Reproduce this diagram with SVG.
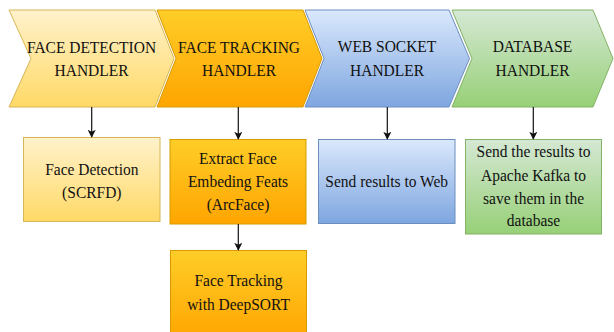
<svg xmlns="http://www.w3.org/2000/svg" width="614" height="332" viewBox="0 0 614 332">
  <defs>
    <linearGradient id="gYellow" x1="0" y1="0" x2="0" y2="1">
      <stop offset="0" stop-color="#fff2cc"/>
      <stop offset="1" stop-color="#ffd966"/>
    </linearGradient>
    <linearGradient id="gOrange" x1="0" y1="0" x2="0" y2="1">
      <stop offset="0" stop-color="#ffcd28"/>
      <stop offset="1" stop-color="#ffa500"/>
    </linearGradient>
    <linearGradient id="gBlue" x1="0" y1="0" x2="0" y2="1">
      <stop offset="0" stop-color="#dae8fc"/>
      <stop offset="1" stop-color="#7ea6e0"/>
    </linearGradient>
    <linearGradient id="gGreen" x1="0" y1="0" x2="0" y2="1">
      <stop offset="0" stop-color="#d5e8d4"/>
      <stop offset="1" stop-color="#97d077"/>
    </linearGradient>
    <marker id="arrow" viewBox="0 0 10 10" refX="9" refY="5" markerWidth="8" markerHeight="8" markerUnits="userSpaceOnUse" orient="auto">
      <path d="M0,0 L10,5 L0,10 L2.5,5 Z" fill="#111"/>
    </marker>
  </defs>
  <style>
    .yellow { fill: url(#gYellow); stroke: #d6b656; stroke-width: 1; }
    .orange { fill: url(#gOrange); stroke: #d79b00; stroke-width: 1; }
    .blue { fill: url(#gBlue); stroke: #6c8ebf; stroke-width: 1; }
    .green { fill: url(#gGreen); stroke: #82b366; stroke-width: 1; }
    text { font-family: "Liberation Serif", "Times New Roman", serif; font-size: 17.5px; fill: #111; text-anchor: middle; }
    .edge { stroke: #111; stroke-width: 1.2; fill: none; marker-end: url(#arrow); }
  </style>

  <rect width="614" height="332" fill="#ffffff"/>

  <!-- stage chevrons -->
  <g id="face-detection-handler">
    <polygon class="yellow" points="9,10 155,10 174,58.5 155,107 9,107 31,58.5"/>
    <text transform="translate(91.5 52.5) scale(0.885 1)">FACE DETECTION</text>
    <text transform="translate(91.5 76) scale(0.885 1)">HANDLER</text>
  </g>
  <g id="face-tracking-handler">
    <polygon class="orange" points="157,10 303,10 322,58.5 303,107 157,107 176,58.5"/>
    <text transform="translate(239 52.5) scale(0.885 1)">FACE TRACKING</text>
    <text transform="translate(239 76) scale(0.885 1)">HANDLER</text>
  </g>
  <g id="web-socket-handler">
    <polygon class="blue" points="305,10 449,10 469.5,58.5 449,107 305,107 324,58.5"/>
    <text transform="translate(387 52) scale(0.885 1)">WEB SOCKET</text>
    <text transform="translate(387 76) scale(0.885 1)">HANDLER</text>
  </g>
  <g id="database-handler">
    <polygon class="green" points="452,10 593,10 613,58.5 593,107 452,107 472,58.5"/>
    <text transform="translate(532.5 52) scale(0.885 1)">DATABASE</text>
    <text transform="translate(532.5 76) scale(0.885 1)">HANDLER</text>
  </g>

  <!-- task boxes -->
  <g id="face-detection">
    <rect class="yellow" x="23.5" y="137.5" width="136.5" height="84"/>
    <text transform="translate(91.8 174.5) scale(0.885 1)">Face Detection</text>
    <text transform="translate(91.8 197.5) scale(0.885 1)">(SCRFD)</text>
  </g>
  <g id="extract-embedding">
    <rect class="orange" x="170" y="139.5" width="136" height="84.5"/>
    <text transform="translate(238 163.5) scale(0.885 1)">Extract Face</text>
    <text transform="translate(238 186.5) scale(0.885 1)">Embeding Feats</text>
    <text transform="translate(238 209.5) scale(0.885 1)">(ArcFace)</text>
  </g>
  <g id="send-to-web">
    <rect class="blue" x="318.5" y="139.5" width="136.5" height="84"/>
    <text transform="translate(386.7 187) scale(0.885 1)">Send results to Web</text>
  </g>
  <g id="send-to-kafka">
    <rect class="green" x="465.5" y="139.5" width="136" height="94.5"/>
    <text transform="translate(533.5 157) scale(0.885 1)">Send the results to</text>
    <text transform="translate(533.5 180.5) scale(0.885 1)">Apache Kafka to</text>
    <text transform="translate(533.5 203.5) scale(0.885 1)">save them in the</text>
    <text transform="translate(533.5 226) scale(0.885 1)">database</text>
  </g>
  <g id="face-tracking">
    <rect class="orange" x="170.5" y="250.5" width="136" height="90"/>
    <text transform="translate(238.5 286) scale(0.885 1)">Face Tracking</text>
    <text transform="translate(238.5 310) scale(0.885 1)">with DeepSORT</text>
  </g>

  <!-- connectors -->
  <g id="connectors">
    <line class="edge" x1="91.7" y1="107" x2="91.7" y2="137"/>
    <line class="edge" x1="238.3" y1="107" x2="238.3" y2="139"/>
    <line class="edge" x1="387.3" y1="107" x2="387.3" y2="139"/>
    <line class="edge" x1="533.3" y1="107" x2="533.3" y2="139"/>
    <line class="edge" x1="238.3" y1="224" x2="238.3" y2="250"/>
  </g>
</svg>
